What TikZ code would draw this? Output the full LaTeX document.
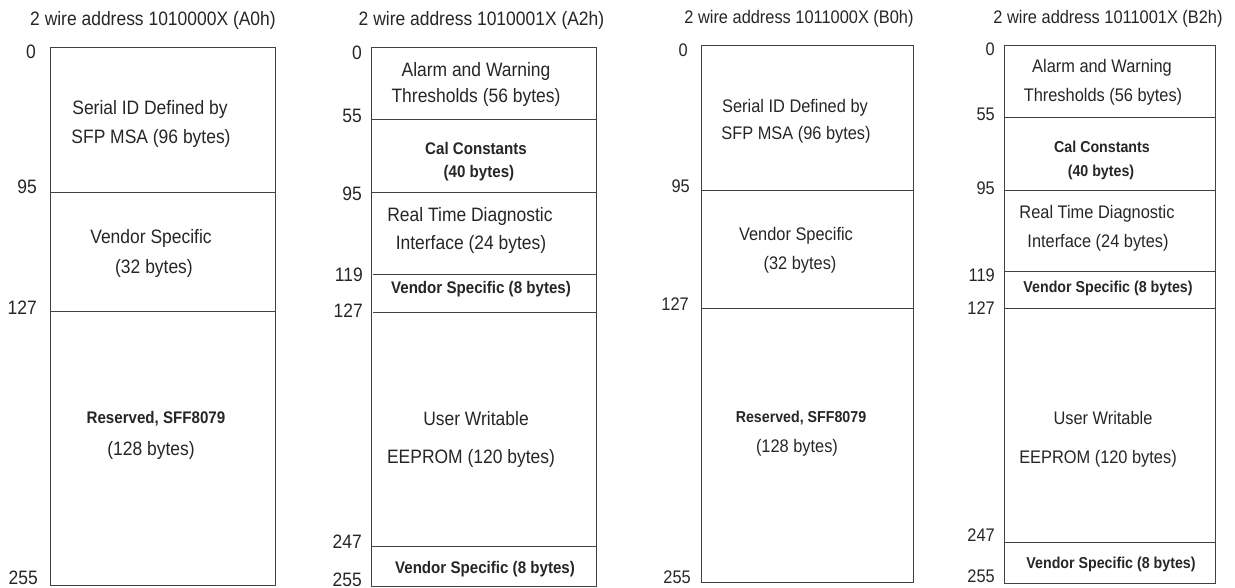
\documentclass[tikz,border=0pt]{standalone}
\usepackage{fontspec}
\setmainfont{Liberation Sans}[FakeStretch=0.9]
\begin{document}
\begin{tikzpicture}[x=1pt,y=-1pt,
  ln/.style={line width=0.9pt,draw=black!75},
  tL/.style={anchor=base,inner sep=0pt,text=black!85,font=\fontsize{19.4}{23}\selectfont},
  bL/.style={anchor=base,inner sep=0pt,text=black!85,font=\fontsize{16.8}{20}\selectfont\bfseries},
  tR/.style={anchor=base,inner sep=0pt,text=black!85,font=\fontsize{18.2}{22}\selectfont},
  bR/.style={anchor=base,inner sep=0pt,text=black!85,font=\fontsize{15.8}{19}\selectfont\bfseries},
  nL/.style={tL,anchor=base east},
  nR/.style={tR,anchor=base east}]
\useasboundingbox (0,0) rectangle (1235,588);
% ---------- Panel 1 (A0h)
\node[tL] (t1) at (153,26) {2 wire address 1010000X (A0h)};
\draw[ln] (50,47) rectangle (275,585);
\draw[ln] (50,192) -- (275,192);
\draw[ln] (50,311) -- (275,311);
\node[tL] (a1) at (150,115) {Serial ID Defined by};
\node[tL] (a2) at (151,144) {SFP MSA (96 bytes)};
\node[tL] (a3) at (151,244) {Vendor Specific};
\node[tL] (a4) at (154,273) {(32 bytes)};
\node[bL] (a5) at (156,423) {Reserved, SFF8079};
\node[tL] (a6) at (151,455) {(128 bytes)};
\node[nL] (n10) at (36,59) {0};
\node[nL] (n11) at (37,194) {95};
\node[nL] (n12) at (37,314) {127};
\node[nL] (n13) at (38,584) {255};
% ---------- Panel 2 (A2h)
\node[tL] (t2) at (481.5,26) {2 wire address 1010001X (A2h)};
\draw[ln] (371,47) rectangle (596,586);
\draw[ln] (371,119) -- (596,119);
\draw[ln] (371,192) -- (596,192);
\draw[ln] (373,274) -- (597,274);
\draw[ln] (373,312) -- (597,312);
\draw[ln] (371,546) -- (596,546);
\node[tL] (b1) at (476,77) {Alarm and Warning};
\node[tL] (b2) at (476,103) {Thresholds (56 bytes)};
\node[bL] (b3) at (476,155) {Cal Constants};
\node[bL] (b4) at (479,178) {(40 bytes)};
\node[tL] (b5) at (470,222) {Real Time Diagnostic};
\node[tL] (b6) at (471,250) {Interface (24 bytes)};
\node[bL] (b7) at (481,294) {Vendor Specific (8 bytes)};
\node[tL] (b8) at (476,425) {User Writable};
\node[tL] (b9) at (471,463) {EEPROM (120 bytes)};
\node[bL] (b10) at (485,573) {Vendor Specific (8 bytes)};
\node[nL] (n20) at (362,60) {0};
\node[nL] (n21) at (362,123) {55};
\node[nL] (n22) at (362,201) {95};
\node[nL] (n23) at (363,282) {119};
\node[nL] (n24) at (363,317) {127};
\node[nL] (n25) at (362,548) {247};
\node[nL] (n26) at (362,586) {255};
% ---------- Panel 3 (B0h)
\node[tR] (t3) at (799,24) {2 wire address 1011000X (B0h)};
\draw[ln] (701,45) rectangle (913,582);
\draw[ln] (701,190) -- (913,190);
\draw[ln] (701,308) -- (913,308);
\node[tR] (c1) at (795,113) {Serial ID Defined by};
\node[tR] (c2) at (796,140) {SFP MSA (96 bytes)};
\node[tR] (c3) at (796,241) {Vendor Specific};
\node[tR] (c4) at (800,270) {(32 bytes)};
\node[bR] (c5) at (801,422) {Reserved, SFF8079};
\node[tR] (c6) at (797,452) {(128 bytes)};
\node[nR] (n30) at (688,57) {0};
\node[nR] (n31) at (690,193) {95};
\node[nR] (n32) at (689,311) {127};
\node[nR] (n33) at (691,583) {255};
% ---------- Panel 4 (B2h)
\node[tR] (t4) at (1108,24) {2 wire address 1011001X (B2h)};
\draw[ln] (1004,45) rectangle (1215,583);
\draw[ln] (1004,117) -- (1215,117);
\draw[ln] (1004,190) -- (1215,190);
\draw[ln] (1004,271) -- (1215,271);
\draw[ln] (1004,308) -- (1215,308);
\draw[ln] (1004,542) -- (1215,542);
\node[tR] (d1) at (1102,73) {Alarm and Warning};
\node[tR] (d2) at (1103,102) {Thresholds (56 bytes)};
\node[bR] (d3) at (1102,153) {Cal Constants};
\node[bR] (d4) at (1101,177) {(40 bytes)};
\node[tR] (d5) at (1097,219) {Real Time Diagnostic};
\node[tR] (d6) at (1098,248) {Interface (24 bytes)};
\node[bR] (d7) at (1108,293) {Vendor Specific (8 bytes)};
\node[tR] (d8) at (1103,424) {User Writable};
\node[tR] (d9) at (1098,463) {EEPROM (120 bytes)};
\node[bR] (d10) at (1111,568) {Vendor Specific (8 bytes)};
\node[nR] (n40) at (995,56) {0};
\node[nR] (n41) at (995,121) {55};
\node[nR] (n42) at (995,195) {95};
\node[nR] (n43) at (995,282) {119};
\node[nR] (n44) at (995,315) {127};
\node[nR] (n45) at (995,541) {247};
\node[nR] (n46) at (995,582) {255};
\end{tikzpicture}
\end{document}
